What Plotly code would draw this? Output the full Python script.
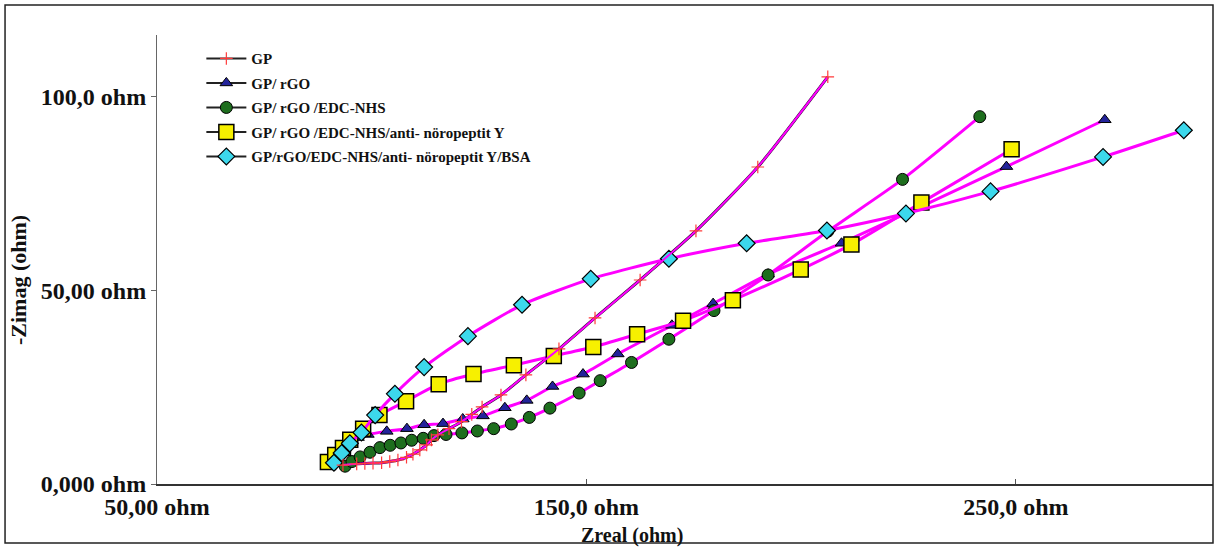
import plotly.graph_objects as go

# ---- data (Zreal, -Zimag) in ohm ----
gp_x = [93.3, 96.5, 98.4, 100.3, 102.3, 104.2, 106.1, 108.1, 109.6, 111.2, 112.8, 113.9, 115.4,
        118.0, 120.9, 123.3, 125.7, 130.1, 135.9, 143.6, 152.0, 162.5, 175.5, 189.9, 206.2]
gp_y = [4.9, 5.2, 5.3, 5.4, 5.5, 5.8, 6.2, 6.9, 7.7, 8.8, 10.1, 11.4, 12.7,
        14.3, 16.1, 18.0, 19.9, 23.0, 28.2, 34.9, 42.9, 52.7, 65.4, 81.9, 105.2]

rgo_x = [91.9, 93.3, 94.8, 96.8, 99.1, 103.5, 108.2, 112.2, 116.6, 121.2, 125.9, 131.0, 136.1,
         142.1, 149.2, 157.3, 169.9, 179.5, 192.3, 209.4, 247.8, 270.7]
rgo_y = [6.2, 8.5, 10.5, 12.0, 12.8, 13.6, 14.3, 15.3, 15.6, 16.8, 17.6, 19.7, 21.6,
         25.2, 28.4, 33.6, 41.0, 46.6, 54.2, 62.2, 82.0, 94.1]

edc_x = [93.8, 95.4, 97.3, 99.6, 101.9, 104.3, 106.8, 109.3, 112.0, 114.5, 117.3, 121.0, 124.6,
         128.4, 132.5, 136.7, 141.5, 148.3, 153.2, 160.5, 169.2, 179.7, 192.3, 206.2, 223.6, 241.6]
edc_y = [4.6, 5.8, 7.0, 8.2, 9.4, 10.0, 10.6, 11.3, 11.8, 12.5, 12.8, 13.2, 13.7,
         14.3, 15.5, 17.2, 19.6, 23.5, 26.7, 31.4, 37.4, 44.8, 54.0, 65.3, 78.7, 94.9]

anti_x = [89.8, 91.5, 93.3, 95.0, 98.0, 101.8, 108.0, 115.6, 123.7, 133.1, 142.4, 151.6, 161.8,
          172.5, 184.1, 199.9, 211.7, 228.0, 249.0]
anti_y = [5.7, 7.5, 9.3, 11.4, 14.3, 17.8, 21.4, 25.8, 28.4, 30.7, 33.1, 35.4, 38.7,
          42.2, 47.5, 55.4, 61.9, 72.7, 86.5]

bsa_x = [91.2, 93.0, 94.9, 97.6, 100.8, 105.4, 112.2, 122.4, 135.0, 151.0, 169.2, 187.3, 206.0,
         224.4, 244.1, 270.3, 289.1]
bsa_y = [5.5, 8.0, 10.5, 13.3, 17.8, 23.3, 30.2, 38.2, 46.3, 53.0, 58.2, 62.2, 65.5,
         69.9, 75.6, 84.5, 91.4]

names = ["GP", "GP/ rGO", "GP/ rGO /EDC-NHS", "GP/ rGO /EDC-NHS/anti- nöropeptit Y",
         "GP/rGO/EDC-NHS/anti- nöropeptit Y/BSA"]

x_tickvals = [50, 150, 250]
x_ticktext = ["50,00 ohm", "150,0 ohm", "250,0 ohm"]
y_tickvals = [0, 50, 100]
y_ticktext = ["0,000 ohm", "50,00 ohm", "100,0 ohm"]

MAG = "#ff00ff"
SERIF = "Liberation Serif, Times New Roman, serif"

styles = [
    dict(symbol="cross-thin", size=9, color="#ff3b3b", line=dict(width=1.2, color="#ff3b3b")),
    dict(symbol="triangle-up", size=11, color="#23239a", line=dict(width=1, color="#000000")),
    dict(symbol="circle", size=12, color="#1e6e1e", line=dict(width=1, color="#000000")),
    dict(symbol="square", size=15, color="#f7f000", line=dict(width=1.5, color="#000000")),
    dict(symbol="diamond", size=13, color="#3cd8ec", line=dict(width=1.2, color="#000000")),
]

series = [(gp_x, gp_y), (rgo_x, rgo_y), (edc_x, edc_y), (anti_x, anti_y), (bsa_x, bsa_y)]

fig = go.Figure()

# dark underlay of GP curve
fig.add_trace(go.Scatter(x=gp_x, y=gp_y, mode="lines", showlegend=False, hoverinfo="skip",
                         line=dict(color="#3a0a40", width=3, shape="spline", smoothing=0.6)))

order = [1, 2, 3, 4, 0]
for i in order:
    xs, ys = series[i]
    lw = 2 if i == 0 else 3
    fig.add_trace(go.Scatter(x=xs, y=ys, mode="lines+markers", name=names[i], showlegend=False,
                             line=dict(color=MAG, width=lw, shape="spline", smoothing=0.6),
                             marker=styles[i]))

# legend-only entries with dark line
for i in range(5):
    fig.add_trace(go.Scatter(x=[None], y=[None], mode="lines+markers", name=names[i],
                             legendgroup="g%d" % i,
                             line=dict(color="#222222", width=2), marker=styles[i]))

fig.update_layout(
    width=1218, height=548,
    margin=dict(l=157, r=5, t=35, b=64, autoexpand=False),
    paper_bgcolor="white", plot_bgcolor="white",
    font=dict(family=SERIF, color="#111111"),
    showlegend=True,
    legend=dict(x=0.042, y=0.984, xanchor="left", yanchor="top", bgcolor="rgba(0,0,0,0)",
                font=dict(family=SERIF, size=15, color="#111111", weight="bold"),
                itemwidth=40, tracegroupgap=2),
    xaxis=dict(range=[50, 295.9], tickvals=x_tickvals, ticktext=x_ticktext, automargin=False,
               showgrid=False, zeroline=False, showline=True, linecolor="#333333", linewidth=2,
               ticks="inside", ticklen=5, tickcolor="#555555",
               tickfont=dict(family=SERIF, size=24, color="#111111", weight="bold")),
    yaxis=dict(range=[0, 116], tickvals=y_tickvals, ticktext=y_ticktext, automargin=False,
               showgrid=False, zeroline=False, showline=True, linecolor="#666666", linewidth=1,
               ticks="outside", ticklen=5, tickcolor="#666666",
               tickfont=dict(family=SERIF, size=24, color="#111111", weight="bold")),
    annotations=[
        dict(text="<b>Zreal (ohm)</b>", x=(632 - 157) / 1056, xref="paper",
             y=-(535 - 484) / 449, yref="paper", xanchor="center", yanchor="middle",
             showarrow=False, font=dict(family=SERIF, size=20, color="#111111")),
        dict(text="<b>-Zimag (ohm)</b>", x=(18 - 157) / 1056, xref="paper",
             y=(484 - 280) / 449, yref="paper", xanchor="center", yanchor="middle",
             textangle=-90, showarrow=False, font=dict(family=SERIF, size=22, color="#111111")),
    ],
    shapes=[dict(type="rect", xref="paper", yref="paper", x0=-0.1439, x1=1.0, y0=-0.1314, y1=1.0668,
                 line=dict(color="#222222", width=1.5), fillcolor="rgba(0,0,0,0)")],
)

fig.write_html("out.html", config={"displayModeBar": False},
               post_script="document.body.style.margin='0px';")
